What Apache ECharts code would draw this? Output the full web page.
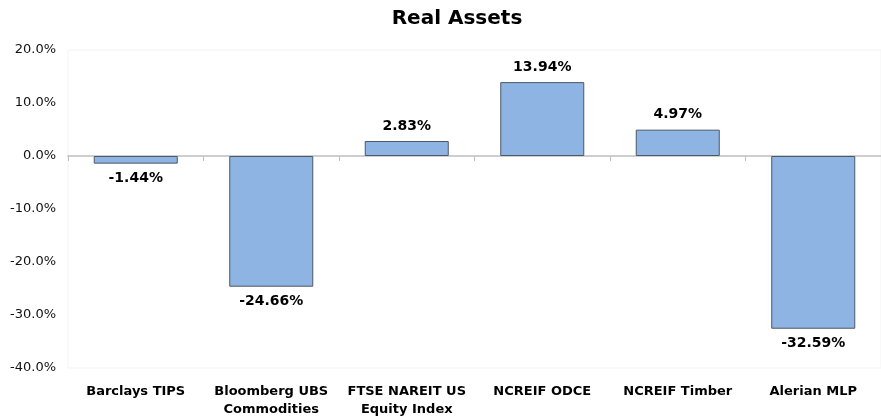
<!DOCTYPE html>
<html>
<head>
<meta charset="utf-8">
<title>Real Assets</title>
<script src="https://cdn.jsdelivr.net/npm/echarts@6/dist/echarts.min.js"></script>
<style>
  html, body { margin: 0; padding: 0; background: #fff; }
  #chart { width: 881px; height: 419px; }
</style>
</head>
<body>
<div id="chart"></div>
<script>
// categories and returns (%)
const categories = [
  'Barclays TIPS',
  'Bloomberg UBS\nCommodities',
  'FTSE NAREIT US\nEquity Index',
  'NCREIF ODCE',
  'NCREIF Timber',
  'Alerian MLP',
]
const returns = [-1.44, -24.66, 2.83, 13.94, 4.97, -32.59]
const yTicks = { min: -40, max: 20, step: 10 }

const chart = echarts.init(document.getElementById('chart'))

const fontFamily = '"DejaVu Sans", Verdana, sans-serif'

const option = {
  animation: false,
  title: {
    text: 'Real Assets',
    left: 452,
    top: 4,
    textAlign: 'center',
    textStyle: { fontFamily, fontSize: 20, fontWeight: 'bold', color: '#000' },
  },
  grid: {
    left: 68,
    right: -9,
    top: 50,
    bottom: 47,
    show: true,
    borderColor: '#f3f3f3',
    borderWidth: 1,
  },
  xAxis: [
    {
      // labels along the bottom
      type: 'category',
      data: categories,
      position: 'bottom',
      axisLine: { show: false, onZero: false },
      axisTick: { show: false },
      axisLabel: {
        margin: 15,
        interval: 0,
        fontFamily,
        fontSize: 13,
        fontWeight: 'bold',
        lineHeight: 18,
        color: '#000',
      },
    },
    {
      // zero line with category ticks
      type: 'category',
      data: categories,
      position: 'bottom',
      axisLine: { show: true, onZero: true, lineStyle: { color: '#bfbfbf', width: 1.5 } },
      axisTick: { show: true, inside: false, length: 5, lineStyle: { color: '#bfbfbf' } },
      axisLabel: { show: false },
    },
  ],
  yAxis: {
    type: 'value',
    min: yTicks.min,
    max: yTicks.max,
    interval: yTicks.step,
    axisLine: { show: false },
    axisTick: { show: false },
    splitLine: { show: false },
    axisLabel: {
      margin: 12,
      fontFamily,
      fontSize: 13,
      color: '#111',
      formatter: v => v.toFixed(1) + '%',
    },
  },
  series: [{
    type: 'bar',
    data: returns,
    xAxisIndex: 0,
    barWidth: '62%',
    itemStyle: {
      color: '#8eb4e3',
      borderColor: '#4d5866',
      borderWidth: 1,
    },
    label: {
      show: true,
      position: 'outside',
      distance: 8,
      fontFamily,
      fontSize: 14,
      fontWeight: 'bold',
      color: '#000',
      formatter: p => p.value.toFixed(2) + '%',
    },
  }],
}

chart.setOption(option)

window.addEventListener('resize', () => chart.resize())
</script>
</body>
</html>
